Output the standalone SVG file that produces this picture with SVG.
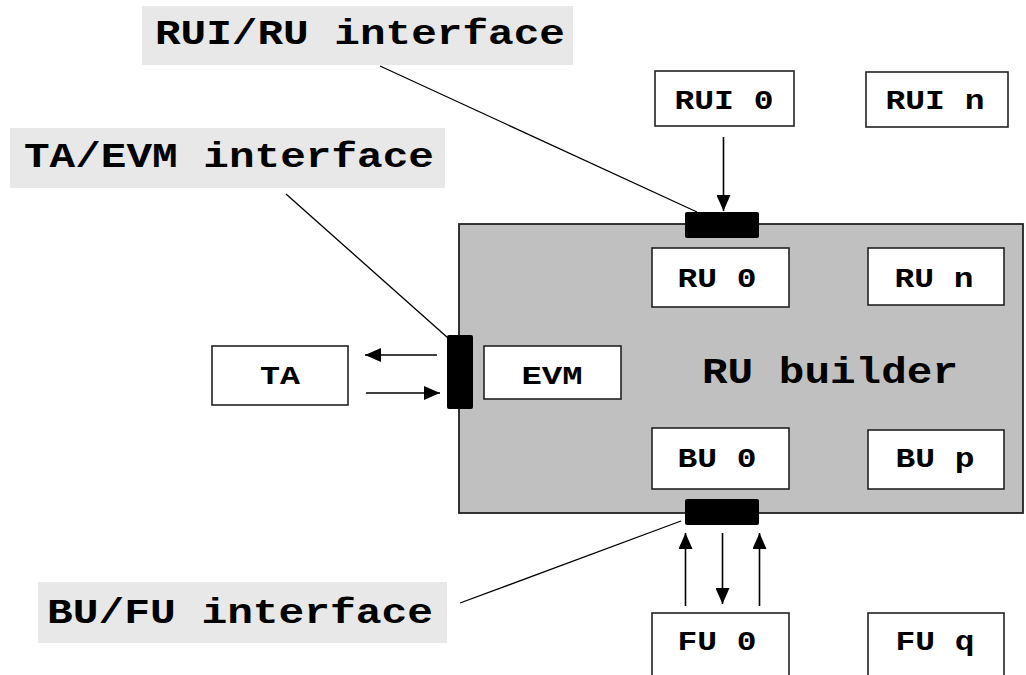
<svg xmlns="http://www.w3.org/2000/svg" width="1026" height="675" viewBox="0 0 1026 675">
  <defs>
    <marker id="arrow" markerUnits="userSpaceOnUse" markerWidth="16" markerHeight="14" refX="16" refY="7" orient="auto">
      <path d="M0,0 L16,7 L0,14 Z" fill="#000"/>
    </marker>
    <style>
      text { font-family: "Liberation Mono", "DejaVu Sans Mono", monospace; font-weight: bold; fill: #000; text-anchor: middle; }
      .label-bg { fill: #e8e8e8; }
      .label { font-size: 35px; }
      .box { fill: #fff; stroke: #222; stroke-width: 1.6; }
      .box-text { font-size: 28px; }
      .small-text { font-size: 26px; }
      .builder { fill: #c0c0c0; stroke: #222; stroke-width: 1.8; }
      .port { fill: #000; }
      .title { font-size: 36px; }
      .flow { stroke: #000; stroke-width: 1.6; fill: none; marker-end: url(#arrow); }
      .leader { stroke: #000; stroke-width: 1.3; fill: none; }
    </style>
  </defs>

  <rect width="1026" height="675" fill="#fff"/>

  <!-- RU builder container -->
  <g id="ru-builder">
    <rect class="builder" x="459" y="224" width="564" height="289"/>
    <text class="title" x="830" y="383" textLength="256" lengthAdjust="spacingAndGlyphs">RU builder</text>
  </g>

  <!-- interface ports on the builder edge -->
  <g id="port-rui-ru"><rect class="port" x="685" y="212" width="74" height="26" rx="2"/></g>
  <g id="port-ta-evm"><rect class="port" x="447" y="335" width="26" height="74" rx="2"/></g>
  <g id="port-bu-fu"><rect class="port" x="685" y="499" width="74" height="26" rx="2"/></g>

  <!-- nodes -->
  <g id="rui-0">
    <rect class="box" x="655" y="71" width="139" height="55"/>
    <text class="box-text" x="724" y="109" textLength="99" lengthAdjust="spacingAndGlyphs">RUI 0</text>
  </g>
  <g id="rui-n">
    <rect class="box" x="866" y="72" width="142" height="55"/>
    <text class="box-text" x="935" y="109" textLength="99" lengthAdjust="spacingAndGlyphs">RUI n</text>
  </g>
  <g id="ru-0">
    <rect class="box" x="652" y="248" width="137" height="59"/>
    <text class="box-text" x="717" y="287" textLength="79" lengthAdjust="spacingAndGlyphs">RU 0</text>
  </g>
  <g id="ru-n">
    <rect class="box" x="868" y="248" width="136" height="57"/>
    <text class="box-text" x="934" y="287" textLength="79" lengthAdjust="spacingAndGlyphs">RU n</text>
  </g>
  <g id="evm">
    <rect class="box" x="484" y="346" width="137" height="53"/>
    <text class="small-text" x="552" y="384" textLength="61" lengthAdjust="spacingAndGlyphs">EVM</text>
  </g>
  <g id="ta">
    <rect class="box" x="212" y="346" width="136" height="59"/>
    <text class="small-text" x="280" y="384" textLength="40" lengthAdjust="spacingAndGlyphs">TA</text>
  </g>
  <g id="bu-0">
    <rect class="box" x="652" y="428" width="137" height="61"/>
    <text class="box-text" x="717" y="467" textLength="79" lengthAdjust="spacingAndGlyphs">BU 0</text>
  </g>
  <g id="bu-p">
    <rect class="box" x="868" y="430" width="136" height="59"/>
    <text class="box-text" x="935" y="467" textLength="79" lengthAdjust="spacingAndGlyphs">BU p</text>
  </g>
  <g id="fu-0">
    <rect class="box" x="652" y="613" width="137" height="80"/>
    <text class="box-text" x="717" y="650" textLength="79" lengthAdjust="spacingAndGlyphs">FU 0</text>
  </g>
  <g id="fu-q">
    <rect class="box" x="868" y="613" width="136" height="80"/>
    <text class="box-text" x="935" y="650" textLength="79" lengthAdjust="spacingAndGlyphs">FU q</text>
  </g>

  <!-- interface labels -->
  <g id="label-rui-ru">
    <rect class="label-bg" x="142" y="6" width="431" height="59"/>
    <text class="label" x="360" y="44" textLength="410" lengthAdjust="spacingAndGlyphs">RUI/RU interface</text>
  </g>
  <g id="label-ta-evm">
    <rect class="label-bg" x="10" y="128" width="435" height="60"/>
    <text class="label" x="229" y="167" textLength="410" lengthAdjust="spacingAndGlyphs">TA/EVM interface</text>
  </g>
  <g id="label-bu-fu">
    <rect class="label-bg" x="38" y="582" width="409" height="61"/>
    <text class="label" x="240" y="623" textLength="386" lengthAdjust="spacingAndGlyphs">BU/FU interface</text>
  </g>

  <!-- connectors -->
  <g id="connectors">
    <line class="leader" x1="380" y1="66" x2="697" y2="212"/>
    <line class="leader" x1="286" y1="194" x2="448" y2="338"/>
    <line class="leader" x1="460" y1="603" x2="681" y2="521"/>

    <line class="flow" x1="723.5" y1="137" x2="723.5" y2="211"/>
    <line class="flow" x1="437" y1="355" x2="365" y2="355"/>
    <line class="flow" x1="366" y1="393" x2="440" y2="393"/>
    <line class="flow" x1="685.5" y1="606" x2="685.5" y2="533"/>
    <line class="flow" x1="722.5" y1="533" x2="722.5" y2="604"/>
    <line class="flow" x1="759.5" y1="606" x2="759.5" y2="533"/>
  </g>
</svg>
